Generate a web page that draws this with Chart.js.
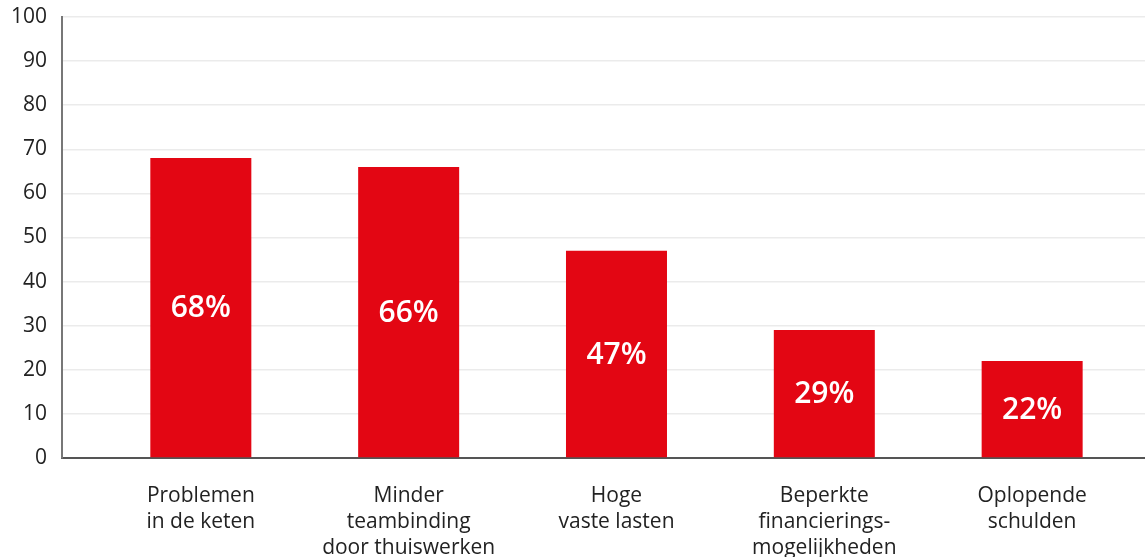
<!DOCTYPE html>
<html>
<head>
<meta charset="utf-8">
<script src="https://cdn.jsdelivr.net/npm/chart.js@4"></script>
<style>
html,body{margin:0;padding:0;background:#fff;}
#wrap{width:1145px;height:557px;position:relative;}
</style>
</head>
<body>
<div id="wrap"><canvas id="c" width="1145" height="557"></canvas></div>
<script>
const categories = [
  ["Problemen", "in de keten"],
  ["Minder", "teambinding", "door thuiswerken"],
  ["Hoge", "vaste lasten"],
  ["Beperkte", "financierings-", "mogelijkheden"],
  ["Oplopende", "schulden"]
];
const values = [68, 66, 47, 29, 22];
const valueLabels = ["68%", "66%", "47%", "29%", "22%"];
const yTicks = [0, 10, 20, 30, 40, 50, 60, 70, 80, 90, 100];

const points = values.map((v, i) => ({ x: i, y: v }));

const barLabelPlugin = {
  id: 'barLabels',
  afterDatasetsDraw(chart) {
    const ctx = chart.ctx;
    const meta = chart.getDatasetMeta(0);
    ctx.save();
    ctx.fillStyle = '#ffffff';
    ctx.font = '600 30px "Open Sans"';
    ctx.textAlign = 'center';
    ctx.textBaseline = 'middle';
    meta.data.forEach((bar, i) => {
      const mid = (bar.y + bar.base) / 2 + 1;
      ctx.fillText(valueLabels[i], bar.x, mid);
    });
    ctx.restore();
  }
};

new Chart(document.getElementById('c'), {
  type: 'bar',
  data: {
    datasets: [{
      data: points,
      backgroundColor: '#e30613',
      borderWidth: 0,
      barPercentage: 0.486,
      categoryPercentage: 1
    }]
  },
  options: {
    responsive: false,
    animation: false,
    devicePixelRatio: 1,
    layout: { padding: { top: 17, left: 0, right: 0, bottom: 0 } },
    plugins: { legend: { display: false }, tooltip: { enabled: false } },
    scales: {
      x: {
        type: 'linear',
        offset: false,
        min: -0.668,
        max: 4.543,
        afterBuildTicks(scale) {
          scale.ticks = categories.map((c, i) => ({ value: i }));
        },
        afterFit(scale) {
          scale.height = 99;
          scale.paddingLeft = 0;
          scale.paddingRight = 0;
        },
        grid: { display: false, drawTicks: false, offset: false },
        border: { display: true, color: '#555555', width: 2 },
        ticks: {
          autoSkip: false,
          maxRotation: 0,
          padding: 25,
          color: '#222222',
          font: { family: '"Open Sans"', size: 21, lineHeight: 1.24 },
          callback: (v) => categories[v] || ''
        }
      },
      y: {
        min: 0,
        max: 100,
        afterBuildTicks(scale) {
          scale.ticks = yTicks.map(v => ({ value: v }));
        },
        afterFit(scale) {
          scale.width = 62;
          scale.paddingTop = 0;
          scale.paddingBottom = 0;
        },
        grid: { color: '#ebebeb', lineWidth: 1.5, drawTicks: false },
        border: { display: true, color: '#777777', width: 2 },
        ticks: {
          padding: 15,
          color: '#222222',
          font: { family: '"Open Sans"', size: 21 }
        }
      }
    }
  },
  plugins: [barLabelPlugin]
});
</script>
</body>
</html>
